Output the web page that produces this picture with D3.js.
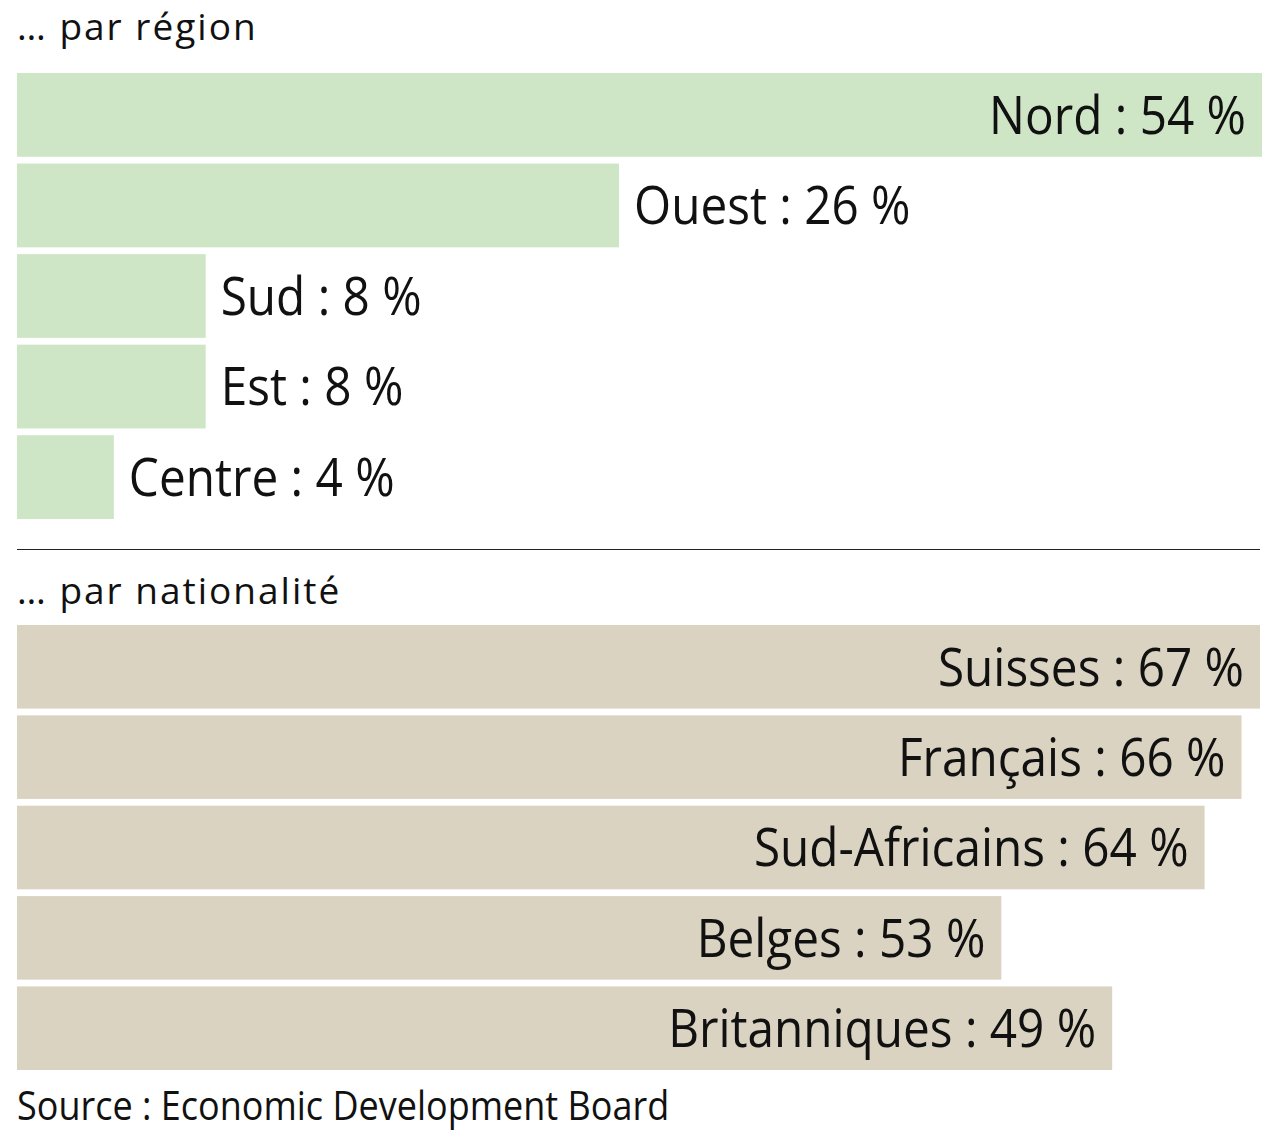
<!DOCTYPE html>
<html>
<head>
<meta charset="utf-8">
<script src="https://cdn.jsdelivr.net/npm/d3@7"></script>
<style>
  body { margin: 0; background: #fff; }
  text { font-family: "Open Sans", sans-serif; fill: #111; }
</style>
</head>
<body>
<div class="parent"></div>
<script>
const regions = ["Nord", "Ouest", "Sud", "Est", "Centre"];
const regionValues = [54, 26, 8, 8, 4];

const nationalities = ["Suisses", "Français", "Sud-Africains", "Belges", "Britanniques"];
const nationalityValues = [67, 66, 64, 53, 49];
// bar lengths as drawn in the source: the Britanniques bar sits at ~59 although it is labelled 49
const nationalityBars = [67, 66, 64, 53, 59];

const titles = ["… par région", "… par nationalité"];
const source = "Source : Economic Development Board";

const width = 1280, height = 1148;
const left = 17;
const labelSize = 53;

const svg = d3.select(".parent")
  .append("svg")
  .attr("width", width)
  .attr("height", height);

// the original face is narrower than Open Sans, so squeeze text horizontally
function addText(x, y, str, size, anchor, sx) {
  return svg.append("text")
    .attr("transform", `translate(${x},${y}) scale(${sx},1)`)
    .attr("text-anchor", anchor || "start")
    .style("font-size", size + "px")
    .text(str);
}

function drawPanel(cats, bars, labels, color, yRange, xMax, xRight) {
  const x = d3.scaleLinear().domain([0, xMax]).range([left + 5, xRight]);
  const y = d3.scaleBand().domain(cats).range(yRange).paddingInner(0.075);

  svg.append("g")
    .selectAll("rect")
    .data(cats)
    .join("rect")
    .attr("x", left)
    .attr("y", d => y(d))
    .attr("width", (d, i) => x(bars[i]) - left)
    .attr("height", y.bandwidth())
    .attr("fill", color);

  cats.forEach((c, i) => {
    const end = x(bars[i]);
    const inside = end - left > 800;
    const yy = y(c) + y.bandwidth() / 2 + labelSize * 0.714 / 2;
    addText(inside ? end - 16 : end + 15, yy, `${c} : ${labels[i]} %`, labelSize, inside ? "end" : "start", 0.9);
  });
}

addText(left, 40, titles[0], 37, "start", 1).style("letter-spacing", "2px");
drawPanel(regions, regionValues, regionValues, "#cfe6c6", [73, 519], 54, 1262);

svg.append("line")
  .attr("x1", left).attr("x2", 1260)
  .attr("y1", 549.5).attr("y2", 549.5)
  .attr("stroke", "#222")
  .attr("stroke-width", 1.2);

addText(left, 604, titles[1], 37, "start", 1).style("letter-spacing", "2px");
drawPanel(nationalities, nationalityBars, nationalityValues, "#dbd3c2", [625, 1070], 67, 1260);

addText(left, 1120, source, 41, "start", 0.878);
</script>
</body>
</html>
